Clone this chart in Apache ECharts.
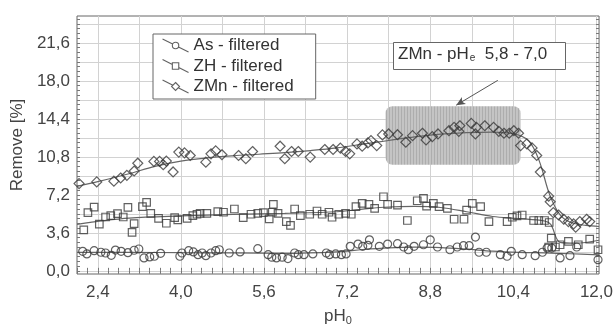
<!DOCTYPE html>
<html>
<head>
<meta charset="utf-8">
<script src="https://cdn.jsdelivr.net/npm/echarts@6/dist/echarts.min.js"></script>
<style>
  html, body { margin: 0; background: #fff; }
  #chart { width: 616px; height: 331px; }
</style>
</head>
<body>
<div id="chart"></div>
<script>
// scatter points, [pH0, remove %]
const asPoints = [
  [2.11, 1.85], [2.19, 1.6], [2.33, 1.91], [2.46, 1.76], [2.55, 1.69], [2.66, 1.47], [2.74, 1.97],
  [2.85, 1.85], [2.98, 1.72], [3.1, 1.95], [3.19, 2.07], [3.29, 1.22], [3.4, 1.32], [3.49, 1.38],
  [3.61, 1.66], [3.98, 1.38], [4.02, 1.69], [4.15, 1.91], [4.24, 1.79], [4.33, 1.53], [4.41, 1.69],
  [4.48, 1.44], [4.58, 1.69], [4.67, 1.91], [4.74, 2.0], [4.93, 1.69], [5.14, 1.79], [5.48, 2.1],
  [5.68, 1.53], [5.75, 1.29], [5.84, 1.22], [5.95, 1.29], [6.06, 1.16], [6.19, 1.69], [6.26, 1.53],
  [6.37, 1.53], [6.54, 1.6], [6.8, 1.69], [6.86, 1.53], [6.98, 1.6], [7.09, 1.53], [7.18, 1.6],
  [7.26, 2.32], [7.41, 2.54], [7.5, 2.32], [7.6, 2.42], [7.63, 2.94], [7.82, 2.32], [7.98, 2.54],
  [8.17, 2.57], [8.29, 2.26], [8.38, 2.0], [8.49, 2.32], [8.67, 2.47], [8.8, 2.94], [8.94, 2.26],
  [9.18, 2.0], [9.32, 2.26], [9.44, 2.38], [9.55, 2.38], [9.67, 3.2], [9.74, 1.76], [9.88, 1.76],
  [10.15, 1.53], [10.28, 1.38], [10.36, 1.85], [10.57, 1.53], [10.82, 1.44], [10.96, 1.76],
  [11.05, 2.16], [11.14, 2.16], [11.3, 1.22], [11.49, 1.44], [11.62, 2.26], [12.03, 1.06]
];
const zhPoints = [
  [2.13, 3.88], [2.21, 5.52], [2.33, 6.04], [2.43, 4.42], [2.55, 5.1], [2.65, 5.23], [2.78, 5.42],
  [2.89, 5.1], [2.98, 6.02], [3.06, 3.64], [3.1, 4.48], [3.26, 6.08], [3.34, 6.49], [3.42, 5.45],
  [3.57, 4.98], [3.72, 4.51], [3.88, 5.04], [3.94, 4.82], [4.12, 4.98], [4.23, 5.23], [4.31, 5.36],
  [4.37, 5.45], [4.5, 5.45], [4.71, 5.61], [4.82, 5.55], [5.03, 5.86], [5.2, 5.05], [5.35, 5.36],
  [5.48, 5.45], [5.59, 5.52], [5.7, 4.92], [5.76, 5.55], [5.78, 6.3], [5.87, 5.45], [6.03, 4.67],
  [6.11, 4.3], [6.19, 5.86], [6.3, 5.23], [6.48, 5.36], [6.62, 5.67], [6.72, 5.36], [6.85, 5.55],
  [6.91, 5.08], [7.04, 5.36], [7.17, 5.45], [7.28, 5.36], [7.37, 6.08], [7.49, 6.39], [7.62, 6.3],
  [7.73, 5.92], [7.9, 7.02], [7.98, 6.3], [8.17, 6.23], [8.36, 4.77], [8.55, 6.64], [8.67, 6.86],
  [8.73, 6.14], [8.86, 6.39], [8.97, 6.08], [9.13, 5.92], [9.26, 4.89], [9.45, 4.89], [9.5, 5.76],
  [9.61, 6.39], [9.77, 6.08], [9.93, 4.67], [10.28, 4.67], [10.38, 5.08], [10.47, 5.2], [10.57, 5.29],
  [10.79, 4.77], [10.89, 4.77], [11.0, 4.77], [11.09, 4.58], [11.13, 3.1], [11.08, 2.26],
  [11.21, 2.26], [11.3, 2.47], [11.46, 2.79], [11.65, 2.47], [11.87, 3.0], [12.03, 2.0]
];
const zmnPoints = [
  [2.04, 8.27], [2.38, 8.43], [2.71, 8.5], [2.84, 8.8], [2.96, 9.05], [3.1, 9.46], [3.17, 10.2],
  [3.48, 10.37], [3.59, 10.37], [3.66, 10.06], [3.72, 10.4], [3.85, 9.37], [3.96, 11.25], [4.07, 11.18],
  [4.18, 10.93], [4.48, 10.3], [4.58, 11.09], [4.67, 11.37], [4.79, 11.0], [5.11, 10.93], [5.25, 10.62],
  [5.38, 11.31], [5.91, 11.81], [6.0, 10.62], [6.13, 11.31], [6.26, 11.31], [6.49, 10.78], [6.77, 11.5],
  [6.93, 11.5], [7.07, 11.63], [7.17, 11.31], [7.25, 11.09], [7.39, 12.03], [7.49, 11.81], [7.6, 12.12],
  [7.66, 12.34], [7.77, 11.87], [7.88, 12.88], [8.0, 12.97], [8.17, 12.9], [8.33, 12.19], [8.46, 12.81],
  [8.65, 13.04], [8.72, 12.41], [8.84, 12.72], [8.95, 12.97], [9.16, 13.28], [9.26, 13.6], [9.35, 13.22],
  [9.37, 13.75], [9.59, 13.97], [9.67, 12.97], [9.69, 13.6], [9.85, 13.75], [10.02, 13.6], [10.12, 13.22],
  [10.22, 13.04], [10.32, 13.04], [10.41, 13.28], [10.5, 13.04], [10.54, 11.87], [10.66, 12.03],
  [10.76, 11.65], [10.85, 10.93], [10.92, 9.37], [11.08, 7.08], [11.11, 6.55], [11.17, 5.52],
  [11.27, 5.29], [11.37, 4.89], [11.46, 4.67], [11.56, 4.45], [11.6, 4.14], [11.68, 4.67],
  [11.81, 4.89], [11.87, 4.67]
];

// fitted curves, read at a few points
const asFit = [
  [2.0, 1.75], [3.0, 1.75], [4.0, 1.72], [5.0, 1.7], [6.0, 1.66], [7.0, 1.8], [7.5, 2.02], [8.0, 2.18],
  [8.5, 2.24], [9.0, 2.2], [9.5, 2.05], [10.0, 1.86], [10.5, 1.75], [11.0, 1.7], [11.5, 1.62], [12.05, 1.52]
];
const zhFit = [
  [2.0, 4.4], [2.5, 4.75], [3.0, 5.0], [4.0, 5.2], [5.0, 5.35], [6.0, 5.45], [7.0, 5.6], [7.5, 5.85],
  [8.0, 6.05], [8.5, 6.1], [9.0, 6.0], [9.5, 5.6], [10.0, 5.15], [10.5, 4.95], [11.0, 4.72], [11.12, 4.4],
  [11.3, 2.7], [11.6, 2.62], [12.05, 2.9]
];
const zmnFit = [
  [2.0, 8.0], [2.4, 8.45], [3.0, 9.2], [3.5, 9.9], [4.0, 10.4], [4.5, 10.7], [5.0, 10.9], [5.5, 11.05],
  [6.0, 11.2], [6.5, 11.4], [7.0, 11.65], [7.5, 12.0], [8.0, 12.35], [8.5, 12.7], [9.0, 12.95],
  [9.5, 13.1], [10.0, 13.15], [10.4, 13.0], [10.7, 12.3], [10.9, 10.4], [11.1, 7.2], [11.3, 5.3],
  [11.5, 4.6], [11.8, 4.3], [12.05, 4.2]
];

// highlighted range (pH0 from/to, remove from/to) and arrow ends
const boxRange = [7.94, 10.54, 10.06, 15.6];
const arrowFrom = [10.1, 18.05];
const arrowTo = [9.3, 15.7];

const xGrid = [2.4, 3.2, 4.0, 4.8, 5.6, 6.4, 7.2, 8.0, 8.8, 9.6, 10.4, 11.2, 12.0];
const xLabels = [2.4, 4.0, 5.6, 7.2, 8.8, 10.4, 12.0];
const yGrid = [0, 1.8, 3.6, 5.4, 7.2, 9.0, 10.8, 12.6, 14.4, 16.2, 18.0, 19.8, 21.6, 23.4];
const yLabels = [0, 3.6, 7.2, 10.8, 14.4, 18.0, 21.6];

const X_MIN = 2.0, X_MAX = 12.05, Y_MIN = -0.3, Y_MAX = 24.15;

function steps(a, b, d) {
  const out = [];
  for (let i = 0; a + i * d <= b + 1e-9; i++) out.push(+(a + i * d).toFixed(3));
  return out;
}
const xMinor = steps(2.0, 12.0, 0.2);
const yMinor = steps(0, 23.85, 0.45);

const comma = (v) => v.toFixed(1).replace(".", ",");
const font = "Arial, 'Liberation Sans', sans-serif";
const ink = "#3a3a3a";

// vertical stripes for the shaded box
const stripe = document.createElement("canvas");
stripe.width = 3;
stripe.height = 3;
const sctx = stripe.getContext("2d");
sctx.fillStyle = "#c4c4c4";
sctx.fillRect(0, 0, 3, 3);
sctx.fillStyle = "#adadad";
sctx.fillRect(2, 0, 1, 3);

function minorAxis(position, values) {
  const isX = position === "top" || position === "bottom";
  return {
    type: "value",
    position: position,
    min: isX ? X_MIN : Y_MIN,
    max: isX ? X_MAX : Y_MAX,
    axisLine: { show: false },
    axisTick: { show: true, inside: true, length: 3, customValues: values, lineStyle: { color: "#777" } },
    axisLabel: { show: false },
    splitLine: { show: false },
  };
}

const pointStyle = { color: "transparent", borderColor: ink, borderWidth: 1.2 };
const fitStyle = { color: "#666", width: 1.2 };

const chart = echarts.init(document.getElementById("chart"), null, { renderer: "canvas" });
chart.setOption({
  animation: false,
  textStyle: { fontFamily: font },
  grid: {
    left: 77, right: 14, top: 16, bottom: 55,
    show: true, borderColor: "#666", borderWidth: 1, backgroundColor: "#fff",
  },
  legend: {
    left: 153, top: 34,
    orient: "vertical",
    padding: [3, 22, 4, 9],
    itemGap: 3.5,
    itemWidth: 26, itemHeight: 13,
    borderColor: "#666", borderWidth: 1, backgroundColor: "#fff",
    textStyle: { fontSize: 17, color: "#333", fontFamily: font },
    itemStyle: { color: "transparent", borderColor: ink, borderWidth: 1.1 },
    data: [
      { name: "As - filtered", icon: "path://M0,0L10.1,5.05M15.9,7.95L26,13M16.2,6.5A3.2,3.2,0,1,1,9.8,6.5A3.2,3.2,0,1,1,16.2,6.5Z" },
      { name: "ZH - filtered", icon: "path://M0,0L9.8,4.9M16.2,8.1L26,13M9.8,3.3H16.2V9.7H9.8Z" },
      { name: "ZMn - filtered", icon: "path://M0,0L10.33,5.17M15.67,7.83L26,13M13,2.5L17,6.5L13,10.5L9,6.5Z" },
    ],
  },
  xAxis: [
    {
      type: "value", min: X_MIN, max: X_MAX,
      name: "{a|pH}{s|0}", nameLocation: "middle", nameGap: 32,
      nameTextStyle: {
        rich: {
          a: { fontSize: 17, color: "#444", fontFamily: font },
          s: { fontSize: 11, color: "#444", fontFamily: font, padding: [9, 0, 0, 0] },
        },
      },
      axisLine: { show: false },
      axisTick: { show: false, customValues: xGrid },
      axisLabel: { customValues: xLabels, formatter: comma, fontSize: 17, color: "#444", margin: 10 },
      splitLine: { show: true, lineStyle: { color: "#d2d2d2", width: 1 } },
    },
    minorAxis("top", xMinor),
    minorAxis("bottom", xMinor),
  ],
  yAxis: [
    {
      type: "value", min: Y_MIN, max: Y_MAX,
      name: "Remove [%]", nameLocation: "middle", nameGap: 47,
      nameTextStyle: { fontSize: 17, color: "#444" },
      axisLine: { show: false },
      axisTick: { show: false, customValues: yGrid },
      axisLabel: { customValues: yLabels, formatter: comma, fontSize: 17, color: "#444", margin: 7 },
      splitLine: { show: true, lineStyle: { color: "#d2d2d2", width: 1 } },
    },
    minorAxis("right", yMinor),
    minorAxis("left", yMinor),
  ],
  series: [
    { name: "As fit", type: "line", data: asFit, smooth: 0.35, showSymbol: false, silent: true, lineStyle: fitStyle, z: 2 },
    { name: "ZH fit", type: "line", data: zhFit, smooth: 0.35, showSymbol: false, silent: true, lineStyle: fitStyle, z: 2 },
    { name: "ZMn fit", type: "line", data: zmnFit, smooth: 0.35, showSymbol: false, silent: true, lineStyle: fitStyle, z: 2 },
    { name: "As - filtered", type: "scatter", symbol: "circle", symbolSize: 8, data: asPoints, itemStyle: pointStyle, z: 3 },
    { name: "ZH - filtered", type: "scatter", symbol: "rect", symbolSize: 7.5, data: zhPoints, itemStyle: pointStyle, z: 3 },
    {
      name: "ZMn - filtered", type: "scatter", symbol: "diamond", symbolSize: 10, data: zmnPoints, itemStyle: pointStyle, z: 3,
      markLine: {
        silent: true,
        symbol: ["none", "arrow"],
        symbolSize: [6, 9],
        label: { show: false },
        lineStyle: { color: "#555", width: 1, type: "solid" },
        data: [[{ coord: arrowFrom }, { coord: arrowTo }]],
      },
    },
  ],
  graphic: [
    {
      type: "rect", left: 393, top: 42, z: 100,
      shape: { width: 172, height: 27 },
      style: { fill: "#fff", stroke: "#666", lineWidth: 1 },
    },
    {
      type: "text", left: 398, top: 46, z: 101,
      style: {
        text: "{a|ZMn - pH}{s|e}{a|  5,8 - 7,0}",
        rich: {
          a: { fontSize: 17, fill: "#333", fontFamily: font },
          s: { fontSize: 10, fill: "#333", fontFamily: font, padding: [8, 0, 0, 1] },
        },
      },
    },
  ],
});

// shaded rounded box placed through the grid's own scales
const p0 = chart.convertToPixel({ gridIndex: 0 }, [boxRange[0], boxRange[3]]);
const p1 = chart.convertToPixel({ gridIndex: 0 }, [boxRange[1], boxRange[2]]);
chart.setOption({
  graphic: [
    {
      id: "shade", type: "rect", z: 1,
      shape: { x: p0[0], y: p0[1], width: p1[0] - p0[0], height: p1[1] - p0[1], r: 7 },
      style: { fill: { image: stripe, repeat: "repeat" } },
      silent: true,
    },
  ],
});
</script>
</body>
</html>
